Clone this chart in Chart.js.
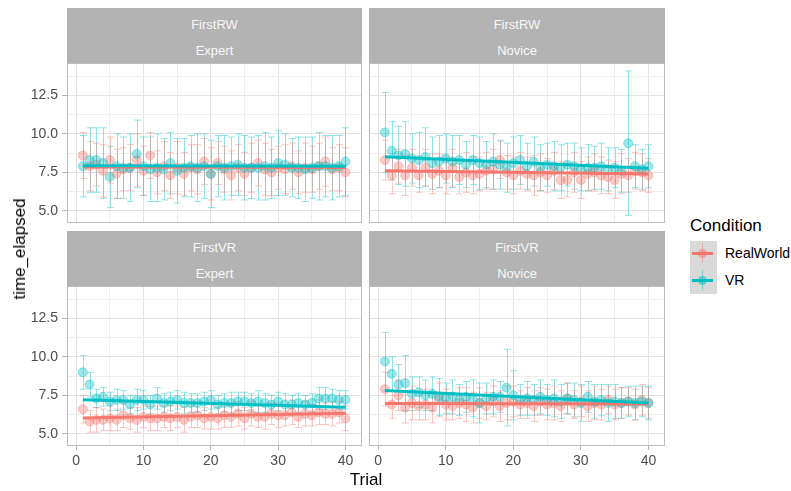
<!DOCTYPE html>
<html>
<head>
<meta charset="utf-8">
<script src="https://cdn.jsdelivr.net/npm/chart.js@4.4.0/dist/chart.umd.min.js"></script>
<style>
  body { margin: 0; background: #fff; font-family: "Liberation Sans", Arial, sans-serif; }
  #wrap { position: relative; width: 791px; height: 491px; overflow: hidden; background: #fff; }
  canvas { position: absolute; }
  .strip { position: absolute; background: #b3b3b3; color: #f7f7f7; font-size: 13px; }
  .strip span { position: absolute; left: 0; right: 0; text-align: center; line-height: 14px; }
  .abs { position: absolute; white-space: nowrap; }
</style>
</head>
<body>
<div id="wrap">
  <div class="strip" style="left:67px;top:8px;width:295px;height:55px"><span style="top:10px">FirstRW</span><span style="top:36px">Expert</span></div>
  <div class="strip" style="left:369px;top:8px;width:296px;height:55px"><span style="top:10px">FirstRW</span><span style="top:36px">Novice</span></div>
  <div class="strip" style="left:67px;top:231px;width:295px;height:55px"><span style="top:10px">FirstVR</span><span style="top:36px">Expert</span></div>
  <div class="strip" style="left:369px;top:231px;width:296px;height:55px"><span style="top:10px">FirstVR</span><span style="top:36px">Novice</span></div>

  <canvas id="tl" width="362" height="160" style="left:0;top:63px"></canvas>
  <canvas id="tr" width="296" height="160" style="left:369px;top:63px"></canvas>
  <canvas id="bl" width="362" height="186" style="left:0;top:286px"></canvas>
  <canvas id="br" width="296" height="186" style="left:369px;top:286px"></canvas>

  <div class="abs" style="left:20px;top:249px;font-size:17px;transform:translate(-50%,-50%) rotate(-90deg)">time_elapsed</div>
  <div class="abs" style="left:366px;top:480px;font-size:17px;transform:translate(-50%,-50%)">Trial</div>

  <div class="abs" style="left:690px;top:216px;font-size:17px">Condition</div>
  <div class="abs" style="left:690px;top:241px;width:27px;height:53px;background:#d9d9d9"></div>
  <div class="abs" style="left:702px;top:243px;width:1px;height:20px;background:rgba(248,118,109,0.45)"></div>
  <div class="abs" style="left:698px;top:249px;width:9px;height:9px;border-radius:50%;background:rgba(248,118,109,0.55)"></div>
  <div class="abs" style="left:692px;top:252px;width:21px;height:3px;background:#F8766D"></div>
  <div class="abs" style="left:702px;top:270px;width:1px;height:20px;background:rgba(0,191,196,0.45)"></div>
  <div class="abs" style="left:698px;top:276px;width:9px;height:9px;border-radius:50%;background:rgba(0,191,196,0.55)"></div>
  <div class="abs" style="left:692px;top:279px;width:21px;height:3px;background:#00BFC4"></div>
  <div class="abs" style="left:725px;top:245px;font-size:14px">RealWorld</div>
  <div class="abs" style="left:725px;top:272px;font-size:14px">VR</div>
</div>
<script>
const trials = [1,2,3,4,5,6,7,8,9,10,11,12,13,14,15,16,17,18,19,20,21,22,23,24,25,26,27,28,29,30,31,32,33,34,35,36,37,38,39,40];
const fitTrials = [1, 40];
const xTicks = [0, 5, 10, 15, 20, 25, 30, 35, 40];
const yTicks = [5, 6.25, 7.5, 8.75, 10, 11.25, 12.5, 13.75];

// FirstRW / Expert
const rwExpRW = [8.6,7.9,8.0,7.6,8.3,7.4,7.7,7.8,8.3,7.6,8.6,7.5,7.9,7.3,7.8,7.4,7.8,7.7,8.2,7.4,8.1,7.7,7.3,7.8,7.4,7.8,8.1,7.7,7.5,7.8,7.7,7.9,7.5,7.8,7.7,7.9,8.2,7.7,7.8,7.5];
const rwExpRWerr = [1.5,1.6,1.4,1.7,1.5,1.6,1.4,1.5,1.7,1.6,1.5,1.4,1.6,1.5,1.7,1.4,1.5,1.6,1.5,1.7,1.4,1.5,1.6,1.5,1.4,1.6,1.5,1.7,1.5,1.4,1.6,1.5,1.4,1.6,1.5,1.5,1.6,1.4,1.5,1.6];
const rwExpVR = [7.9,8.3,8.3,8.1,7.2,7.9,7.8,7.8,8.7,7.9,7.7,7.8,7.7,8.1,7.6,7.8,7.9,7.8,7.9,7.4,7.9,7.8,7.9,8.0,7.8,7.8,7.8,7.9,7.8,8.1,8.0,7.8,7.8,7.7,7.8,7.9,7.9,7.8,7.9,8.2];
const rwExpVRerr = [2.0,2.1,2.1,2.3,2.0,2.1,2.0,2.2,2.2,1.9,2.1,2.2,2.0,2.0,2.1,1.9,2.0,2.2,2.1,2.2,2.0,2.1,1.9,2.0,2.1,2.0,2.1,2.2,2.0,2.1,2.0,1.9,2.0,2.1,2.0,2.2,2.0,2.1,2.0,2.2];
const rwExpRWfit = [7.85, 7.82];
const rwExpVRfit = [7.93, 7.90];

// FirstRW / Novice
const rwNovRW = [8.3,7.3,7.9,7.3,7.8,7.3,7.8,7.4,7.6,7.3,7.8,7.2,7.5,7.3,7.4,7.6,7.7,8.3,7.5,7.3,7.6,7.4,7.3,7.5,7.3,7.6,7.0,7.0,7.5,7.0,7.4,7.5,7.3,7.2,7.0,7.4,7.3,7.6,7.5,7.3];
const rwNovRWerr = [1.3,1.2,1.1,1.3,1.2,1.1,1.2,1.3,1.1,1.2,1.2,1.1,1.3,1.2,1.1,1.2,1.3,1.2,1.1,1.2,1.2,1.1,1.3,1.2,1.1,1.2,1.2,1.1,1.3,1.2,1.1,1.2,1.2,1.1,1.2,1.3,1.1,1.2,1.2,1.1];
const rwNovVR = [10.1,8.9,8.6,8.7,8.4,8.3,8.5,8.1,8.2,8.4,8.2,8.3,8.0,8.3,8.1,8.0,8.2,8.0,7.8,8.1,8.3,7.9,8.2,7.8,8.0,7.9,7.8,8.0,7.9,7.7,7.8,7.8,7.9,7.7,7.8,7.6,9.4,7.9,7.7,7.9];
const rwNovVRerr = [2.6,1.9,1.9,2.1,1.6,1.8,1.9,1.7,1.7,1.6,1.7,1.6,1.5,1.6,1.7,1.5,1.8,1.6,1.6,1.7,1.6,1.5,1.6,1.5,1.4,1.6,1.5,1.4,1.5,1.4,1.5,1.4,1.5,1.4,1.3,1.4,4.7,1.4,1.3,1.4];
const rwNovRWfit = [7.61, 7.39];
const rwNovVRfit = [8.52, 7.76];

// FirstVR / Expert
const vrExpRW = [6.6,5.8,5.9,5.9,6.0,5.9,6.2,6.0,5.9,6.1,6.0,6.0,6.1,6.0,6.1,5.9,6.1,6.2,6.0,6.1,6.0,6.2,6.1,6.3,6.0,6.3,6.1,6.1,6.3,6.2,6.2,6.4,6.1,6.3,6.2,6.4,6.3,6.3,6.4,6.0];
const vrExpRWerr = [0.9,0.7,0.8,0.7,0.8,0.7,0.8,0.7,0.8,0.7,0.8,0.8,0.7,0.8,0.7,0.8,0.7,0.8,0.7,0.8,0.7,0.8,0.7,0.8,0.7,0.8,0.7,0.8,0.7,0.8,0.7,0.8,0.7,0.8,0.7,0.8,0.7,0.8,0.7,0.8];
const vrExpVR = [9.0,8.2,7.3,7.4,7.1,7.2,7.2,6.9,7.2,7.2,6.9,7.3,7.0,7.1,7.2,7.0,7.0,7.0,7.1,7.2,6.9,7.0,7.0,7.1,7.1,7.0,7.1,7.0,6.9,7.1,6.9,6.9,7.0,6.9,7.0,7.3,7.3,7.3,7.2,7.2];
const vrExpVRerr = [1.1,0.8,0.6,0.6,0.6,0.7,0.6,0.6,0.7,0.6,0.6,0.7,0.6,0.6,0.6,0.7,0.6,0.6,0.6,0.6,0.6,0.6,0.7,0.6,0.6,0.6,0.7,0.6,0.6,0.6,0.7,0.6,0.6,0.6,0.6,0.7,0.7,0.6,0.6,0.6];
const vrExpRWfit = [6.03, 6.33];
const vrExpVRfit = [7.22, 6.72];

// FirstVR / Novice
const vrNovRW = [7.9,6.9,7.5,6.7,7.0,6.8,6.9,6.7,7.2,6.9,6.8,7.0,6.9,6.7,7.0,6.8,7.1,6.8,7.0,7.1,6.9,7.0,6.8,7.1,6.9,7.0,6.8,7.3,6.9,7.1,6.8,7.0,6.9,7.2,6.9,7.0,7.1,6.9,7.2,7.0];
const vrNovRWerr = [1.1,0.9,1.0,1.0,1.1,0.9,1.0,1.0,1.1,1.0,0.9,1.0,1.1,1.0,1.0,0.9,1.0,1.0,1.1,1.0,0.9,1.0,1.0,0.9,1.0,1.1,1.0,1.0,0.9,1.0,1.0,1.1,1.0,0.9,1.0,1.0,0.9,1.0,1.0,1.0];
const vrNovVR = [9.7,8.9,8.2,8.3,7.6,7.7,7.5,7.6,7.4,7.3,7.4,7.2,7.4,7.3,7.0,7.3,7.4,7.4,8.0,7.5,7.2,7.3,7.2,7.4,7.2,7.3,7.1,7.3,7.2,7.0,7.4,7.1,7.2,7.0,7.1,7.0,7.1,7.0,7.1,7.0];
const vrNovVRerr = [1.9,1.1,1.3,1.8,1.1,1.0,1.0,1.1,1.2,1.0,1.1,1.0,1.0,1.2,1.3,1.0,1.1,1.0,2.5,1.6,1.0,1.1,1.0,1.1,1.0,1.2,1.1,1.0,1.1,1.2,1.0,1.1,1.0,1.2,1.1,1.0,1.0,1.1,1.0,1.1];
const vrNovRWfit = [6.96, 6.94];
const vrNovVRfit = [7.82, 7.00];

const FONT = '"Liberation Sans", Arial, sans-serif';
const RED = '#F8766D', CYAN = '#00BFC4';
const RED_PT = 'rgba(248,118,109,0.38)', CYAN_PT = 'rgba(0,191,196,0.38)';
const RED_BAR = 'rgba(248,118,109,0.42)', CYAN_BAR = 'rgba(0,191,196,0.42)';

const pts = (xs, ys) => xs.map((x, i) => ({ x: x, y: ys[i] }));

// error bars under the points + the panel border
const panelPlugin = {
    id: 'panelPlugin',
    beforeDatasetsDraw(chart) {
        const { ctx, scales: { x, y } } = chart;
        ctx.save();
        ctx.lineWidth = 1;
        chart.data.datasets.forEach(ds => {
            if (!ds.err) return;
            ctx.strokeStyle = ds.barColor;
            ds.data.forEach((p, i) => {
                const px = Math.round(x.getPixelForValue(p.x)) + 0.5;
                const top = y.getPixelForValue(p.y + ds.err[i]);
                const bot = y.getPixelForValue(p.y - ds.err[i]);
                ctx.beginPath();
                ctx.moveTo(px, top); ctx.lineTo(px, bot);
                ctx.moveTo(px - 3.5, top); ctx.lineTo(px + 3.5, top);
                ctx.moveTo(px - 3.5, bot); ctx.lineTo(px + 3.5, bot);
                ctx.stroke();
            });
        });
        ctx.restore();
    },
    afterDraw(chart) {
        const { ctx, chartArea: a } = chart;
        ctx.save();
        ctx.strokeStyle = '#bdbdbd';
        ctx.lineWidth = 1;
        ctx.strokeRect(a.left + 0.5, a.top + 0.5, a.right - a.left - 1, a.bottom - a.top - 1);
        ctx.restore();
    }
};

function noPad(ax) {
    ax.paddingTop = 0; ax.paddingBottom = 0; ax.paddingLeft = 0; ax.paddingRight = 0;
}

function makePanel(id, rw, rwErr, vr, vrErr, rwFit, vrFit, showX, showY) {
    new Chart(document.getElementById(id), {
        type: 'scatter',
        data: {
            datasets: [
                { type: 'line', data: pts(fitTrials, vrFit), borderColor: CYAN, borderWidth: 3, pointRadius: 0, order: 0 },
                { type: 'line', data: pts(fitTrials, rwFit), borderColor: RED, borderWidth: 3, pointRadius: 0, order: 1 },
                { data: pts(trials, vr), err: vrErr, barColor: CYAN_BAR, backgroundColor: CYAN_PT, borderColor: CYAN_PT, borderWidth: 1, pointRadius: 4.5, order: 2 },
                { data: pts(trials, rw), err: rwErr, barColor: RED_BAR, backgroundColor: RED_PT, borderColor: RED_PT, borderWidth: 1, pointRadius: 4.5, order: 3 }
            ]
        },
        options: {
            responsive: false,
            animation: false,
            events: [],
            layout: { padding: 0, autoPadding: false },
            plugins: { legend: { display: false }, tooltip: { enabled: false } },
            scales: {
                x: {
                    type: 'linear', min: -1.35, max: 42.45,
                    afterBuildTicks: ax => { ax.ticks = xTicks.map(v => ({ value: v })); },
                    afterFit: ax => { ax.height = showX ? 26 : 0; noPad(ax); },
                    ticks: {
                        display: showX, autoSkip: false, maxRotation: 0, padding: 3,
                        color: '#4d4d4d', font: { size: 14, family: FONT },
                        callback: v => (v % 10 === 0 ? String(v) : '')
                    },
                    grid: {
                        color: c => (c.tick && c.tick.value % 10 === 0 ? '#e2e2e2' : '#eeeeee'),
                        lineWidth: 1, drawTicks: showX, tickLength: 4,
                        tickColor: c => (c.tick && c.tick.value % 10 === 0 ? '#b3b3b3' : 'rgba(0,0,0,0)')
                    },
                    border: { display: false }
                },
                y: {
                    type: 'linear', min: 4.2, max: 14.62,
                    afterBuildTicks: ax => { ax.ticks = yTicks.map(v => ({ value: v })); },
                    afterFit: ax => { ax.width = showY ? 67 : 0; noPad(ax); },
                    ticks: {
                        display: showY, padding: 4,
                        color: '#4d4d4d', font: { size: 14, family: FONT },
                        callback: v => (v % 2.5 === 0 ? v.toFixed(1) : '')
                    },
                    grid: {
                        color: c => (c.tick && c.tick.value % 2.5 === 0 ? '#e2e2e2' : '#eeeeee'),
                        lineWidth: 1, drawTicks: showY, tickLength: 5,
                        tickColor: c => (c.tick && c.tick.value % 2.5 === 0 ? '#b3b3b3' : 'rgba(0,0,0,0)')
                    },
                    border: { display: false }
                }
            }
        },
        plugins: [panelPlugin]
    });
}

makePanel('tl', rwExpRW, rwExpRWerr, rwExpVR, rwExpVRerr, rwExpRWfit, rwExpVRfit, false, true);
makePanel('tr', rwNovRW, rwNovRWerr, rwNovVR, rwNovVRerr, rwNovRWfit, rwNovVRfit, false, false);
makePanel('bl', vrExpRW, vrExpRWerr, vrExpVR, vrExpVRerr, vrExpRWfit, vrExpVRfit, true, true);
makePanel('br', vrNovRW, vrNovRWerr, vrNovVR, vrNovVRerr, vrNovRWfit, vrNovVRfit, true, false);
</script>
</body>
</html>
